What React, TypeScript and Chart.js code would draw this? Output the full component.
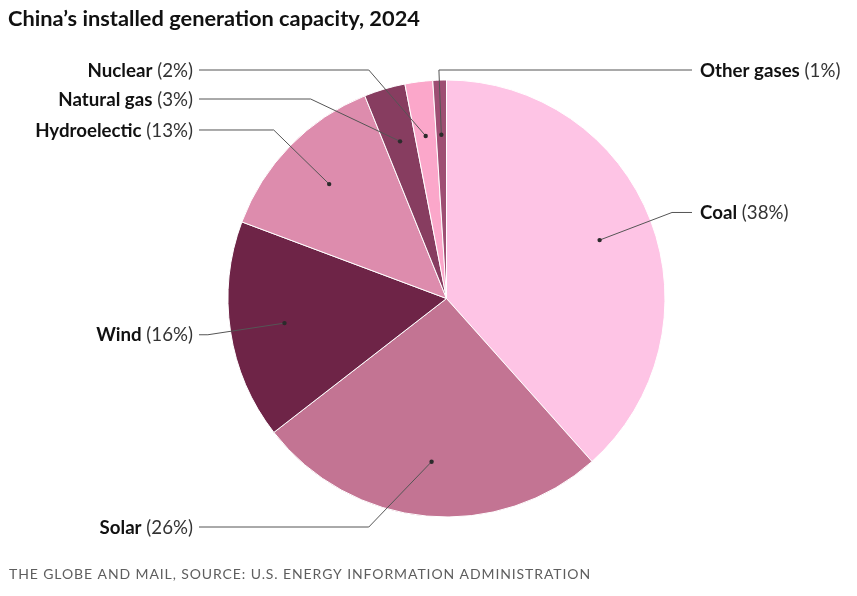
import { useEffect, useRef } from "react";
import { Chart, registerables } from "chart.js";

Chart.register(...registerables);

const categories = ["Coal", "Solar", "Wind", "Hydroelectic", "Natural gas", "Nuclear", "Other gases"];
const shares = [38.4, 26.1, 16.2, 13.2, 3.05, 2.05, 1.0];
const sliceColors = ["#fec4e5", "#c37493", "#6e2447", "#dd8cad", "#873d60", "#fba7ca", "#9e4e73"];
const titleText = "China’s installed generation capacity, 2024";
const sourceText = "THE GLOBE AND MAIL, SOURCE: U.S. ENERGY INFORMATION ADMINISTRATION";

const FONT = "Lato";
const LABEL_SIZE = 18.7;
const TITLE_SIZE = 21.8;

const labelPlugin = {
  id: "leaderLabels",
  afterDatasetsDraw(chart: any) {
    const ctx: CanvasRenderingContext2D = chart.ctx;
    const meta = chart.getDatasetMeta(0);
    const data: number[] = chart.data.datasets[0].data;
    const total = data.reduce((a, b) => a + b, 0);
    const items: any[] = meta.data.map((arc: any, i: number) => {
      const p = arc.getProps(["x", "y", "startAngle", "endAngle", "outerRadius"], true);
      const R = p.outerRadius;
      const mid = (p.startAngle + p.endAngle) / 2;
      const rb = R * 1.1 + 1;
      const dot = { x: p.x + Math.cos(mid) * R * 0.75, y: p.y + Math.sin(mid) * R * 0.75 };
      const P = { x: p.x + Math.cos(mid) * rb, y: p.y + Math.sin(mid) * rb };
      const side = P.x >= p.x - 12 ? "right" : "left";
      return { i, cx: p.x, cy: p.y, R, rb, dot, P, side, pct: Math.round((data[i] / total) * 100) };
    });
    const gap = 29;
    ["left", "right"].forEach((side) => {
      const list = items.filter((d) => d.side === side).sort((a, b) => a.P.y - b.P.y);
      let prev = -Infinity;
      list.forEach((d) => {
        const top = d.cy - d.R - 10;
        const bottom = d.cy + d.R + 10;
        let y = Math.min(Math.max(d.P.y, top), bottom);
        y = Math.max(y, prev + gap);
        d.ly = y;
        prev = y;
      });
    });
    ctx.save();
    items.forEach((d) => {
      let bx = d.P.x;
      if (Math.abs(d.ly - d.P.y) > 0.5) {
        const dy = d.ly - d.cy;
        const sgn = d.P.x >= d.cx ? 1 : -1;
        if (Math.abs(dy) < d.rb && (sgn > 0) === (d.side === "right")) {
          bx = d.cx + sgn * Math.sqrt(d.rb * d.rb - dy * dy);
        }
      }
      const endX = d.side === "right" ? d.cx + d.R + 27 : d.cx - d.R - 29;
      ctx.strokeStyle = "#555555";
      ctx.lineWidth = 1;
      ctx.beginPath();
      ctx.moveTo(d.dot.x, d.dot.y);
      ctx.lineTo(bx, d.ly);
      ctx.lineTo(endX, d.ly);
      ctx.stroke();
      ctx.fillStyle = "#2b2b2b";
      ctx.beginPath();
      ctx.arc(d.dot.x, d.dot.y, 2.2, 0, Math.PI * 2);
      ctx.fill();

      const name = categories[d.i];
      const val = " (" + d.pct + "%)";
      ctx.textBaseline = "alphabetic";
      const base = d.ly + LABEL_SIZE * 0.36;
      ctx.font = `bold ${LABEL_SIZE}px ${FONT}`;
      const wName = ctx.measureText(name).width;
      ctx.font = `${LABEL_SIZE}px ${FONT}`;
      const wVal = ctx.measureText(val).width;
      const x0 = d.side === "right" ? endX + 8 : endX - 6 - wName - wVal;
      ctx.fillStyle = "#111111";
      ctx.textAlign = "left";
      ctx.font = `bold ${LABEL_SIZE}px ${FONT}`;
      ctx.fillText(name, x0, base);
      ctx.fillStyle = "#333333";
      ctx.font = `${LABEL_SIZE}px ${FONT}`;
      ctx.fillText(val, x0 + wName, base);
    });
    ctx.restore();
  },
  afterDraw(chart: any) {
    const ctx: CanvasRenderingContext2D = chart.ctx;
    ctx.save();
    ctx.textAlign = "left";
    ctx.textBaseline = "alphabetic";
    ctx.fillStyle = "#111111";
    ctx.font = `bold ${TITLE_SIZE}px ${FONT}`;
    ctx.fillText(titleText, 8, 26);
    ctx.fillStyle = "#5e5e5e";
    ctx.font = `14px ${FONT}`;
    (ctx as any).letterSpacing = "0.9px";
    ctx.fillText(sourceText, 9, 579);
    ctx.restore();
  },
};

export default function App() {
  const ref = useRef<HTMLCanvasElement | null>(null);
  useEffect(() => {
    if (!ref.current) return;
    const chart = new Chart(ref.current, {
      type: "pie",
      data: {
        labels: categories,
        datasets: [
          {
            data: shares,
            backgroundColor: sliceColors,
            borderColor: "#ffffff",
            borderWidth: 1,
          },
        ],
      },
      options: {
        responsive: false,
        animation: false,
        events: [],
        layout: { padding: { top: 79.5, bottom: 78.5, left: 100, right: 64 } },
        plugins: { legend: { display: false }, tooltip: { enabled: false }, title: { display: false } },
      },
      plugins: [labelPlugin],
    });
    return () => chart.destroy();
  }, []);
  return (
    <div style={{ position: "fixed", left: 0, top: 0, width: 857, height: 596, background: "#ffffff" }}>
      <canvas ref={ref} width={857} height={596} style={{ width: 857, height: 596, display: "block" }} />
    </div>
  );
}
